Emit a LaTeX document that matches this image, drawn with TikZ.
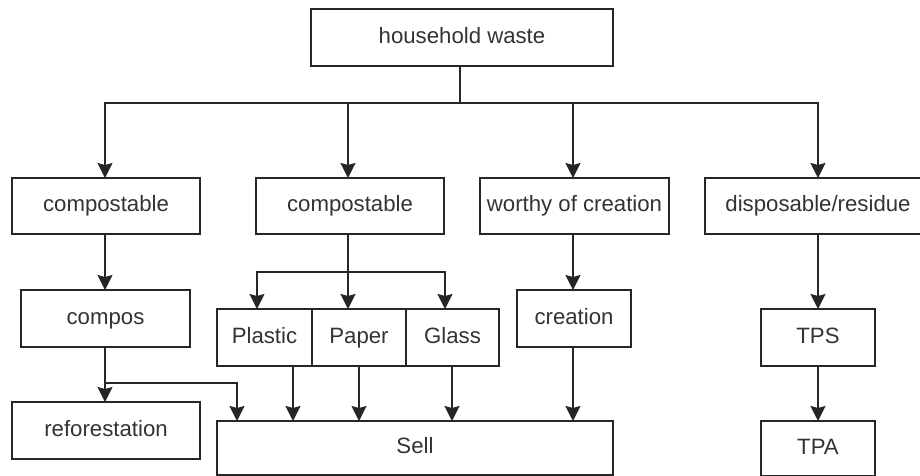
\documentclass[tikz,border=0pt]{standalone}
\usepackage{fontspec}
\setmainfont{Liberation Sans}
\usetikzlibrary{arrows.meta}
\begin{document}
\begin{tikzpicture}[x=1pt,y=-1pt,
  box/.style={draw=black!85, line width=1.8pt, fill=white, inner sep=0pt, outer sep=0pt,
    font=\fontsize{22.2}{26}\selectfont, text=black!80, minimum height=57pt,
    text height=16pt, text depth=4.5pt},
  arr/.style={draw=black!85, line width=1.8pt, -{Stealth[width=15pt,length=15pt,inset=2pt]}},
  ln/.style={draw=black!85, line width=1.8pt}]
\clip (0,0) rectangle (920,476);
\fill[white] (0,0) rectangle (920,476);
% nodes
\node[box, minimum width=302pt] (hw) at (462,37.5) {household waste};
\node[box, minimum width=188pt, minimum height=56pt] (c1) at (106,206) {compostable};
\node[box, minimum width=188pt, minimum height=56pt] (c2) at (350,206) {compostable};
\node[box, minimum width=189pt, minimum height=56pt] (wc) at (574.5,206) {worthy of creation};
\node[box, minimum width=226pt, minimum height=56pt] (dr) at (818,206) {disposable/residue};
\node[box, minimum width=169pt] (compos) at (105.5,318.5) {compos};
\node[box, minimum width=95pt] (plastic) at (264.5,337.5) {Plastic};
\node[box, minimum width=94pt] (paper) at (359,337.5) {Paper};
\node[box, minimum width=93pt] (glass) at (452.5,337.5) {Glass};
\node[box, minimum width=114pt] (creation) at (574,318.5) {creation};
\node[box, minimum width=114pt] (tps) at (818,337.5) {TPS};
\node[box, minimum width=188pt] (refor) at (106,430.5) {reforestation};
\node[box, minimum width=396pt, minimum height=54pt] (sell) at (415,448) {Sell};
\node[box, minimum width=114pt, minimum height=55pt] (tpa) at (818,448.5) {TPA};
% guide coordinates
\coordinate (bus) at (460,103);
\coordinate (xa) at (105,0);
\coordinate (xb) at (348,0);
\coordinate (xc) at (573,0);
\coordinate (xd) at (818,0);
\coordinate (pbus) at (257,272);
\coordinate (gx) at (445,0);
\coordinate (s1) at (237,0);
\coordinate (s2) at (293,0);
\coordinate (s3) at (359,0);
\coordinate (s4) at (452,0);
\coordinate (br) at (105,383);
% top distribution
\draw[ln] (hw.south -| bus) -- (bus);
\draw[arr] (bus) -| (c1.north -| xa);
\draw[arr] (bus) -| (c2.north -| xb);
\draw[arr] (bus) -| (wc.north -| xc);
\draw[arr] (bus) -| (dr.north -| xd);
% left column
\draw[arr] (c1.south -| xa) -- (compos.north -| xa);
\draw[arr] (compos.south -| xa) -- (refor.north -| xa);
\draw[arr] (br) -| (sell.north -| s1);
% compostable 2
\draw[arr] (c2.south -| xb) -- (paper.north -| xb);
\draw[arr] (pbus -| xb) -| (plastic.north -| pbus);
\draw[arr] (pbus -| xb) -| (glass.north -| gx);
% to sell
\draw[arr] (plastic.south -| s2) -- (sell.north -| s2);
\draw[arr] (paper.south -| s3) -- (sell.north -| s3);
\draw[arr] (glass.south -| s4) -- (sell.north -| s4);
% creation
\draw[arr] (wc.south -| xc) -- (creation.north -| xc);
\draw[arr] (creation.south -| xc) -- (sell.north -| xc);
% right
\draw[arr] (dr.south -| xd) -- (tps.north -| xd);
\draw[arr] (tps.south -| xd) -- (tpa.north -| xd);
\end{tikzpicture}
\end{document}
